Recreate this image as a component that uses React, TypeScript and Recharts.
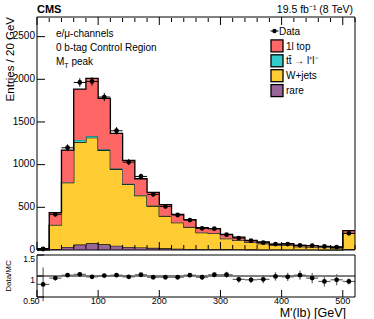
import React from "react";
import {
  ComposedChart,
  Area,
  Scatter,
  ErrorBar,
  XAxis,
  YAxis,
  ReferenceLine,
  Legend,
} from "recharts";

// bins of 20 GeV, low edges and centres
const binLow = [0, 20, 40, 60, 80, 100, 120, 140, 160, 180, 200, 220, 240, 260, 280, 300, 320, 340, 360, 380, 400, 420, 440, 460, 480, 500];
const binCenter = [10, 30, 50, 70, 90, 110, 130, 150, 170, 190, 210, 230, 250, 270, 290, 310, 330, 350, 370, 390, 410, 430, 450, 470, 490, 510];

// stacked MC components (bottom to top)
const rare = [2, 12, 35, 63, 78, 67, 50, 35, 30, 25, 20, 15, 12, 10, 9, 8, 6, 5, 4, 4, 3, 3, 3, 2, 2, 8];
const wjets = [8, 281, 753, 1202, 1237, 1101, 895, 734, 606, 490, 378, 305, 257, 193, 186, 125, 107, 85, 70, 51, 52, 36, 32, 28, 23, 187];
const ttll = [0, 3, 7, 25, 20, 12, 10, 7, 6, 5, 4, 3, 3, 3, 2, 2, 2, 2, 1, 1, 1, 1, 1, 1, 1, 3];
const top1l = [5, 141, 376, 595, 675, 596, 411, 274, 193, 155, 129, 95, 83, 55, 53, 48, 37, 21, 19, 10, 18, 15, 16, 12, 9, 28];

// data
const dataCounts = [12, 418, 1198, 1963, 1975, 1792, 1397, 1030, 862, 652, 511, 410, 351, 254, 250, 180, 140, 109, 86, 70, 70, 55, 52, 41, 33, 195];
const dataErr = [10, 25, 40, 50, 50, 48, 42, 36, 33, 28, 25, 22, 20, 18, 18, 15, 14, 12, 11, 10, 10, 9, 9, 8, 7, 16];

// data / MC
const ratio = [0.8, 0.95, 1.02, 1.04, 0.98, 1.01, 1.02, 0.98, 1.03, 0.97, 0.97, 0.97, 1.02, 0.97, 1.03, 1.03, 0.92, 0.91, 0.92, 0.99, 0.98, 1.02, 0.95, 0.87, 0.91, 0.87];
const ratioErr = [0.4, 0.05, 0.03, 0.03, 0.03, 0.03, 0.03, 0.03, 0.03, 0.04, 0.04, 0.05, 0.05, 0.06, 0.06, 0.07, 0.08, 0.08, 0.09, 0.1, 0.1, 0.11, 0.12, 0.12, 0.13, 0.07];

const majorY = [0, 500, 1000, 1500, 2000, 2500];
const minorY = [100, 200, 300, 400, 600, 700, 800, 900, 1100, 1200, 1300, 1400, 1600, 1700, 1800, 1900, 2100, 2200, 2300, 2400, 2600, 2700];
const majorX = [0, 100, 200, 300, 400, 500];
const minorX = [20, 40, 60, 80, 120, 140, 160, 180, 220, 240, 260, 280, 320, 340, 360, 380, 420, 440, 460, 480, 520];
const ratioY = [0.5, 1, 1.5];
const ratioMinorY = [0.6, 0.7, 0.8, 0.9, 1.1, 1.2, 1.3, 1.4];

const COLORS = {
  top1l: "#ff6666",
  ttll: "#33cccc",
  wjets: "#ffcc33",
  rare: "#996699",
};

const legendItems = [
  { name: "Data", color: "#000", marker: true },
  { name: "1l top", color: COLORS.top1l },
  { name: "tt\u0304 \u2192 l\u207Al\u207B", color: COLORS.ttll },
  { name: "W+jets", color: COLORS.wjets },
  { name: "rare", color: COLORS.rare },
];

const stackRows = binLow.map((x, i) => ({
  x,
  rare: rare[i],
  wjets: wjets[i],
  ttll: ttll[i],
  top1l: top1l[i],
}));
stackRows.push({ ...stackRows[stackRows.length - 1], x: 520 });

const dataPoints = binCenter.map((x, i) => ({ x, y: dataCounts[i], ex: 10, ey: dataErr[i] }));
const ratioPoints = binCenter.map((x, i) => ({ x, y: ratio[i], ex: 10, ey: ratioErr[i] }));

const FONT = "'Liberation Sans', Arial, Helvetica, sans-serif";
const blank = () => "";
const line = { stroke: "#000" };

const Dot = (props: any) => <circle cx={props.cx} cy={props.cy} r={2.4} fill="#000" />;

const renderLegend = () => (
  <svg width={100} height={80} style={{ fontFamily: FONT }}>
    {legendItems.map((it, i) => {
      const cy = 9 + i * 14.9;
      if (it.marker) {
        return (
          <g key={it.name}>
            <line x1={4.5} x2={12.5} y1={cy} y2={cy} stroke="#000" strokeWidth={1} />
            <circle cx={8.5} cy={cy} r={2.2} fill="#000" />
            <text x={13} y={cy + 3.6} fontSize={10} fill="#000">{it.name}</text>
          </g>
        );
      }
      return (
        <g key={it.name}>
          <rect x={5} y={cy - 6} width={12} height={12} fill={it.color} stroke="#000" strokeWidth={1.3} />
          <text x={20} y={cy + 3.6} fontSize={10} fill="#000">{it.name}</text>
        </g>
      );
    })}
  </svg>
);

export default function App() {
  return (
    <div style={{ position: "absolute", left: 0, top: 0, width: 374, height: 319, background: "#fff", fontFamily: FONT }}>
      <div style={{ position: "absolute", left: 0, top: 250 }}>
        <ComposedChart width={374} height={69} margin={{ top: 5, right: 19, bottom: 0, left: 0 }}>
          <XAxis type="number" dataKey="x" domain={[0, 520]} ticks={majorX} interval={0} height={22}
            tickSize={-7} tickMargin={8} tick={{ fill: "#000", fontSize: 9 }} axisLine={line} tickLine={line} />
          <XAxis xAxisId="xbm" type="number" dataKey="x" domain={[0, 520]} ticks={minorX} interval={0} mirror height={1}
            tickSize={3.5} tickFormatter={blank} axisLine={false} tickLine={line} />
          <XAxis xAxisId="xt" orientation="top" type="number" dataKey="x" domain={[0, 520]} ticks={majorX} interval={0} mirror height={1}
            tickSize={7} tickFormatter={blank} axisLine={line} tickLine={line} />
          <XAxis xAxisId="xtm" orientation="top" type="number" dataKey="x" domain={[0, 520]} ticks={minorX} interval={0} mirror height={1}
            tickSize={3.5} tickFormatter={blank} axisLine={false} tickLine={line} />
          <YAxis type="number" domain={[0.5, 1.5]} ticks={ratioY} interval={0} width={37} tickSize={-7} tickMargin={9}
            allowDataOverflow tick={{ fill: "#000", fontSize: 8.5, dy: 4 }} axisLine={line} tickLine={line} />
          <YAxis yAxisId="ylm" type="number" domain={[0.5, 1.5]} ticks={ratioMinorY} interval={0} mirror width={1}
            tickSize={3.5} tickFormatter={blank} axisLine={false} tickLine={line} />
          <YAxis yAxisId="yr" orientation="right" type="number" domain={[0.5, 1.5]} ticks={ratioY} interval={0} mirror width={1}
            tickSize={7} tickFormatter={blank} axisLine={line} tickLine={line} />
          <YAxis yAxisId="yrm" orientation="right" type="number" domain={[0.5, 1.5]} ticks={ratioMinorY} interval={0} mirror width={1}
            tickSize={3.5} tickFormatter={blank} axisLine={false} tickLine={line} />

          <ReferenceLine y={1} stroke="#000" strokeWidth={1} />

          <Scatter data={ratioPoints} dataKey="y" shape={Dot} isAnimationActive={false}>
            <ErrorBar dataKey="ex" direction="x" width={0} stroke="#666" strokeWidth={1.2} />
            <ErrorBar dataKey="ey" direction="y" width={0} stroke="#666" strokeWidth={1.2} />
          </Scatter>
        </ComposedChart>
      </div>

      <div style={{ position: "absolute", left: 0, top: 0 }}>
        <ComposedChart width={374} height={256} data={stackRows} margin={{ top: 17, right: 19, bottom: 6, left: 0 }}>
          <XAxis type="number" dataKey="x" domain={[0, 520]} ticks={majorX} interval={0} mirror height={1}
            tickSize={8} tickFormatter={blank} axisLine={line} tickLine={line} />
          <XAxis xAxisId="xbm" type="number" dataKey="x" domain={[0, 520]} ticks={minorX} interval={0} mirror height={1}
            tickSize={4} tickFormatter={blank} axisLine={false} tickLine={line} />
          <XAxis xAxisId="xt" orientation="top" type="number" dataKey="x" domain={[0, 520]} ticks={majorX} interval={0} mirror height={1}
            tickSize={8} tickFormatter={blank} axisLine={line} tickLine={line} />
          <XAxis xAxisId="xtm" orientation="top" type="number" dataKey="x" domain={[0, 520]} ticks={minorX} interval={0} mirror height={1}
            tickSize={4} tickFormatter={blank} axisLine={false} tickLine={line} />
          <YAxis type="number" domain={[0, 2730]} ticks={majorY} interval={0} width={37} tickSize={-8} tickMargin={10}
            tick={{ fill: "#000", fontSize: 10, dy: -1 }} axisLine={line} tickLine={line} />
          <YAxis yAxisId="ylm" type="number" domain={[0, 2730]} ticks={minorY} interval={0} mirror width={1}
            tickSize={4} tickFormatter={blank} axisLine={false} tickLine={line} />
          <YAxis yAxisId="yr" orientation="right" type="number" domain={[0, 2730]} ticks={majorY} interval={0} mirror width={1}
            tickSize={8} tickFormatter={blank} axisLine={line} tickLine={line} />
          <YAxis yAxisId="yrm" orientation="right" type="number" domain={[0, 2730]} ticks={minorY} interval={0} mirror width={1}
            tickSize={4} tickFormatter={blank} axisLine={false} tickLine={line} />

          <Area type="stepAfter" dataKey="rare" stackId="mc" fill={COLORS.rare} fillOpacity={1} stroke="#000" strokeWidth={1.2} isAnimationActive={false} />
          <Area type="stepAfter" dataKey="wjets" stackId="mc" fill={COLORS.wjets} fillOpacity={1} stroke="#000" strokeWidth={1.2} isAnimationActive={false} />
          <Area type="stepAfter" dataKey="ttll" stackId="mc" fill={COLORS.ttll} fillOpacity={1} stroke="#1d5c4a" strokeWidth={1} isAnimationActive={false} />
          <Area type="stepAfter" dataKey="top1l" stackId="mc" fill={COLORS.top1l} fillOpacity={1} stroke="#000" strokeWidth={1.3} isAnimationActive={false} />

          <Scatter data={dataPoints} dataKey="y" shape={Dot} isAnimationActive={false}>
            <ErrorBar dataKey="ex" direction="x" width={0} stroke="#000" strokeWidth={1} />
            <ErrorBar dataKey="ey" direction="y" width={0} stroke="#000" strokeWidth={1} />
          </Scatter>

          <Legend layout="vertical" align="center" verticalAlign="middle" content={renderLegend}
            wrapperStyle={{ top: 22, left: 266, width: 100, height: 80 }} />
        </ComposedChart>
      </div>

      <svg width={374} height={319} style={{ position: "absolute", left: 0, top: 0, pointerEvents: "none", fontFamily: FONT }}>
        <text x={37} y={13} fontSize={11} fontWeight="bold" fill="#000">CMS</text>
        <text x={353} y={13} fontSize={10.5} textAnchor="end" fill="#000">19.5 fb{"\u207B\u00B9"} (8 TeV)</text>
        <text x={56} y={36.5} fontSize={10} fill="#000">e/μ-channels</text>
        <text x={56} y={50.5} fontSize={10} fill="#000">0 b-tag Control Region</text>
        <text x={56} y={65} fontSize={10} fill="#000">
          M<tspan fontSize={7} dy={2.5}>T</tspan><tspan dy={-2.5}> peak</tspan>
        </text>
        <text transform="rotate(-90)" x={-17} y={14} fontSize={11.5} textAnchor="end" fill="#000">Entries / 20 GeV</text>
        <text transform="rotate(-90)" x={-276} y={11} fontSize={8} textAnchor="middle" fill="#000">Data/MC</text>
        <text x={346} y={317} fontSize={12.5} textAnchor="end" fill="#000">M'(lb) [GeV]</text>
      </svg>
    </div>
  );
}
